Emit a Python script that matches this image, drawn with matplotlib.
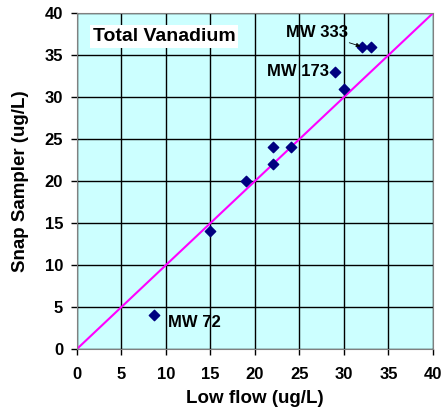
import matplotlib.pyplot as plt

plt.rcParams['font.family'] = ['Liberation Sans', 'DejaVu Sans']
plt.rcParams['font.weight'] = 'bold'

# --- data ---
low_flow = [8.7, 15, 19, 22, 22, 24, 29, 30, 32, 33]
snap = [4, 14, 20, 22, 24, 24, 33, 31, 36, 36]
ticks = [0, 5, 10, 15, 20, 25, 30, 35, 40]
one_to_one = [0, 40]

fig = plt.figure(figsize=(4.45, 4.11), dpi=100)
ax = fig.add_axes([0.173, 0.151, 0.8, 0.817])
ax.set_facecolor('#CCFFFF')

ax.plot(one_to_one, one_to_one, color='#FF00FF', linewidth=1.5, zorder=2)
ax.scatter(low_flow, snap, marker='D', s=28, color='#000080', zorder=3)

ax.set_xlim(0, 40)
ax.set_ylim(0, 40)
ax.set_xticks(ticks)
ax.set_yticks(ticks)
ax.grid(True, color='black', linewidth=1)
ax.set_axisbelow(True)
for s in ax.spines.values():
    s.set_color('#808080')
ax.tick_params(direction='out', length=4, width=1, color='black', labelsize=12)
ax.tick_params(axis='x', pad=9)
ax.tick_params(axis='y', pad=6)
for lbl in ax.get_xticklabels() + ax.get_yticklabels():
    lbl.set_fontweight('bold')

ax.set_xlabel('Low flow (ug/L)', fontsize=13.5, fontweight='bold', labelpad=6)
ax.set_ylabel('Snap Sampler (ug/L)', fontsize=13.5, fontweight='bold', labelpad=11)

ax.text(1.8, 37.2, 'Total Vanadium', fontsize=14, fontweight='bold', va='center',
        bbox=dict(facecolor='white', edgecolor='none', pad=2))

ax.annotate('MW 333', xy=(low_flow[8], snap[8]), xytext=(23.5, 37.7),
            fontsize=12, fontweight='bold', va='center',
            arrowprops=dict(arrowstyle='-|>', color='black', lw=0.6,
                            mutation_scale=6, shrinkA=0, shrinkB=1))
ax.text(28.3, snap[6], 'MW 173', fontsize=12, fontweight='bold', va='center', ha='right')
ax.text(10.2, 3.1, 'MW 72', fontsize=12, fontweight='bold', va='center')

fig.savefig('out.png', dpi=100)
